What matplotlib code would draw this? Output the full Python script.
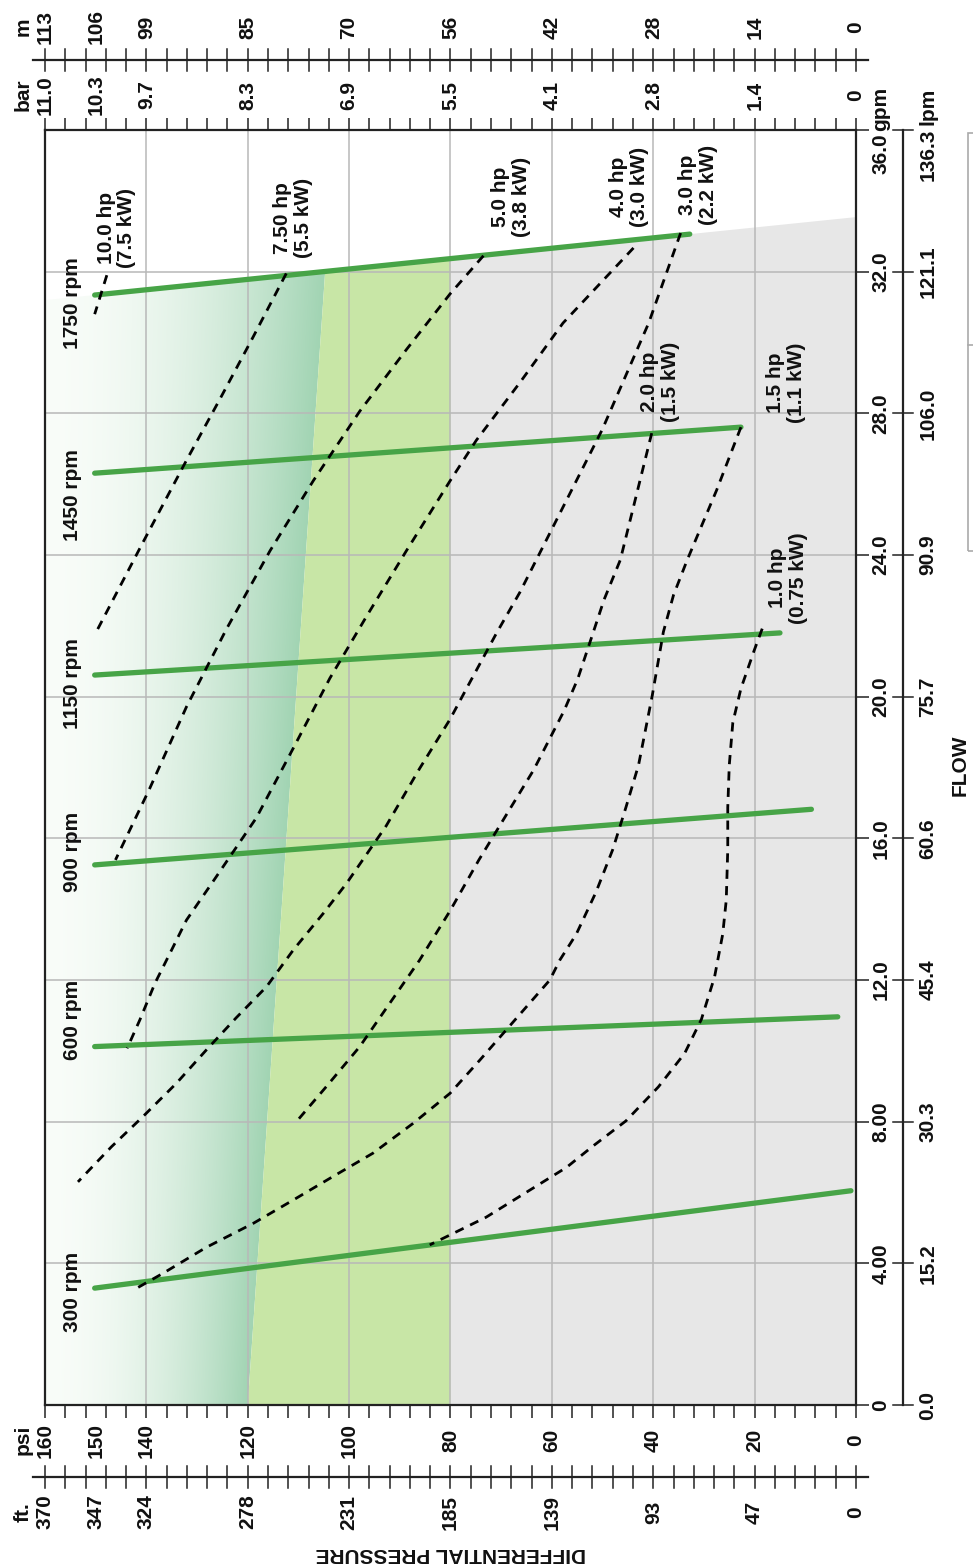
import numpy as np
import matplotlib.pyplot as plt
import matplotlib.transforms as mtransforms
from matplotlib.patches import Polygon, Rectangle
from matplotlib.lines import Line2D

plt.rcParams['font.family'] = ['Liberation Sans', 'DejaVu Sans']
plt.rcParams['font.weight'] = 'bold'

# ---------------- scales ----------------
psi_vals = [160, 150, 140, 120, 100, 80, 60, 40, 20, 0]
ft_labels = ['370', '347', '324', '278', '231', '185', '139', '93', '47', '0']
bar_labels = ['11.0', '10.3', '9.7', '8.3', '6.9', '5.5', '4.1', '2.8', '1.4', '0']
m_labels = ['113', '106', '99', '85', '70', '56', '42', '28', '14', '0']
gpm_vals = [0, 4, 8, 12, 16, 20, 24, 28, 32, 36]
gpm_labels = ['0', '4.00', '8.00', '12.0', '16.0', '20.0', '24.0', '28.0', '32.0', '36.0']
lpm_labels = ['0.0', '15.2', '30.3', '45.4', '60.6', '75.7', '90.9', '106.0', '121.1', '136.3']

# ---------------- speed lines (psi, gpm) ----------------
rpm_names = ['300 rpm', '600 rpm', '900 rpm', '1150 rpm', '1450 rpm', '1750 rpm']
rpm_psi_start = [150.2, 150.2, 150.2, 150.2, 150.2, 150.2]
rpm_psi_end = [1.0, 3.6, 8.8, 15.0, 22.7, 32.8]
rpm_flow_start = [3.30, 10.12, 15.25, 20.61, 26.31, 31.34]
rpm_flow_end = [6.05, 10.96, 16.82, 21.80, 27.61, 33.06]
rpm_label_flow = [3.19, 10.87, 15.61, 20.36, 25.7, 31.1]

# ---------------- power curves (psi, gpm) ----------------
hp10_psi = [147.8, 150.2]
hp10_flow = [31.9, 30.8]
hp75_psi = [112.4, 119.0, 125.5, 132.1, 140.7, 149.7]
hp75_flow = [31.95, 30.14, 28.40, 26.67, 24.35, 21.88]
hp5_psi = [73.5, 80.1, 88.7, 97.9, 107.1, 115.6, 124.2, 132.1, 139.4, 146.1]
hp5_flow = [32.45, 31.37, 29.80, 28.06, 26.09, 24.12, 21.91, 19.71, 17.39, 15.39]
hp4_psi = [43.9, 57.8, 66.3, 74.9, 80.1, 88.7, 96.6, 103.8, 111.0, 118.3, 127.0, 132.1,
           134.7, 138.3, 141.3, 143.8]
hp4_flow = [32.67, 30.55, 28.87, 27.24, 26.09, 24.12, 22.26, 20.52, 18.55, 16.58, 14.75, 13.69,
            12.94, 11.91, 10.87, 10.07]
hp3_psi = [34.6, 40.9, 50.1, 66.3, 70.9, 76.2, 80.1, 86.1, 92.7, 100.5, 105.1, 111.0,
           116.3, 122.3, 128.2, 134.1, 140.7, 146.9, 153.5]
hp3_flow = [33.09, 30.55, 27.53, 22.95, 21.80, 20.40, 19.36, 17.97, 16.35, 14.73, 13.88,
            12.85, 11.81, 10.93, 10.02, 9.08, 8.14, 7.29, 6.30]
hp2_psi = [40.3, 46.5, 49.7, 52.2, 54.9, 57.6, 63.6, 74.4, 80.1, 86.1, 92.0, 97.9, 104.5, 110.7]
hp2_flow = [27.44, 23.86, 22.74, 21.66, 20.5, 19.6, 17.93, 15.39, 13.95, 12.56, 11.34, 10.12,
            8.99, 7.95]
hp15_psi = [22.7, 27.5, 33.3, 36.0, 38.0, 40.2, 42.9, 45.4, 48.0, 51.3, 55.2, 58.4, 60.4, 74.2,
            80.1, 87.4, 95.3, 103.2, 111.0, 118.9, 128.2, 136.7, 142.0]
hp15_flow = [27.61, 25.83, 23.86, 22.87, 21.83, 20.03, 18.07, 16.87, 15.68, 14.48, 13.29, 12.57,
             12.0, 9.74, 8.80, 7.95, 7.11, 6.45, 5.79, 5.13, 4.45, 3.72, 3.29]
hp1_psi = [18.5, 20.1, 22.7, 24.3, 25.0, 25.3, 25.3, 25.6, 26.3, 27.9, 30.5, 33.8, 39.0, 45.4,
           51.9, 57.1, 73.0, 84.1]
hp1_flow = [21.92, 21.3, 20.23, 19.27, 18.07, 16.87, 15.68, 14.25, 13.29, 12.09, 10.89, 9.93,
            8.98, 8.02, 7.31, 6.71, 5.30, 4.52]

hp_curves = [(hp10_psi, hp10_flow), (hp75_psi, hp75_flow), (hp5_psi, hp5_flow),
             (hp4_psi, hp4_flow), (hp3_psi, hp3_flow), (hp2_psi, hp2_flow),
             (hp15_psi, hp15_flow), (hp1_psi, hp1_flow)]
hp_texts = ['10.0 hp\n(7.5 kW)', '7.50 hp\n(5.5 kW)', '5.0 hp\n(3.8 kW)', '4.0 hp\n(3.0 kW)',
            '3.0 hp\n(2.2 kW)', '2.0 hp\n(1.5 kW)', '1.5 hp\n(1.1 kW)', '1.0 hp\n(0.75 kW)']
hp_text_psi = [145.9, 111.1, 68.1, 44.8, 31.2, 38.7, 13.8, 13.4]
hp_text_flow = [33.23, 33.51, 34.1, 34.4, 34.44, 28.88, 28.85, 23.35]

# edge between the teal and light green zones
edge_psi = [120.0, 104.8]
edge_flow = [0.0, 31.85]

# ---------------- figure ----------------
W, H = 973, 1568
L, R, T, B = 45, 856, 130, 1405
fig = plt.figure(figsize=(W / 100, H / 100), dpi=100)
ax = fig.add_axes([L / W, 1 - B / H, (R - L) / W, (B - T) / H])

def axx(px):
    return (px - L) / (R - L)

def axy(py):
    return (B - py) / (B - T)

bx = mtransforms.blended_transform_factory(ax.transData, ax.transAxes)
by = mtransforms.blended_transform_factory(ax.transAxes, ax.transData)

# top speed line, extended to the axes limits
s = (rpm_flow_end[-1] - rpm_flow_start[-1]) / (rpm_psi_end[-1] - rpm_psi_start[-1])
def top_flow(p):
    return rpm_flow_start[-1] + s * (p - rpm_psi_start[-1])

es = (edge_psi[1] - edge_psi[0]) / (edge_flow[1] - edge_flow[0])
# intersection of the edge with the top speed line
fi = (rpm_flow_start[-1] + s * (edge_psi[0] - rpm_psi_start[-1])) / (1 - s * es)
pi_ = edge_psi[0] + es * fi

ax.add_patch(Polygon([(80, 0), (0, 0), (0, top_flow(0)), (80, top_flow(80))],
                     closed=True, fc='#e7e7e7', ec='none', zorder=0.6))
ax.add_patch(Polygon([(edge_psi[0], 0), (80, 0), (80, top_flow(80)), (pi_, fi)],
                     closed=True, fc='#c8e6a6', ec='none', zorder=0.6))

pp = np.linspace(160, 100, 400)
ff = np.linspace(0, 34, 200)
P, F = np.meshgrid(pp, ff)
edge = edge_psi[0] + es * F
t = np.clip((160 - P) / (160 - edge), 0, 1) ** 1.9
c0 = np.array([0.975, 0.99, 0.975])
c1 = np.array([0.63, 0.83, 0.70])
img = c0 * (1 - t[..., None]) + c1 * t[..., None]
im = ax.imshow(img, extent=[160, 100, 0, 34], origin='lower', aspect='auto',
               interpolation='bilinear', zorder=0.5)
clip = Polygon([(160, 0), (edge_psi[0], 0), (pi_, fi), (160, top_flow(160))],
               closed=True, transform=ax.transData)
im.set_clip_path(clip)

ax.set_xlim(160, 0)
ax.set_ylim(0, 36)

# grid
for p in range(20, 160, 20):
    ax.axvline(p, color='#b8b8b8', lw=1.1, zorder=1.5)
for g in range(4, 36, 4):
    ax.axhline(g, color='#b8b8b8', lw=1.1, zorder=1.5)

# speed lines
for i in range(len(rpm_names)):
    ax.plot([rpm_psi_start[i], rpm_psi_end[i]], [rpm_flow_start[i], rpm_flow_end[i]],
            color='#47a447', lw=3.8, solid_capstyle='round', zorder=3)
    ax.text(154.6, rpm_label_flow[i], rpm_names[i], rotation=90, ha='center', va='center',
            fontsize=15, fontweight='bold', color='#111111', zorder=5)

# power curves
for (cp, cf) in hp_curves:
    ax.plot(cp, cf, color='black', lw=2.0, dashes=(3.3, 2.6), zorder=4)
for i in range(len(hp_texts)):
    ax.text(hp_text_psi[i], hp_text_flow[i], hp_texts[i], rotation=90, ha='center',
            va='center', multialignment='center', fontsize=15, fontweight='bold',
            color='#111111', linespacing=1.1, zorder=5)

# frame and ticks
for sp in ax.spines.values():
    sp.set_linewidth(1.6)
    sp.set_color('#222222')
ax.set_xticks(np.arange(0, 161, 4))
ax.set_yticks(gpm_vals)
ax.tick_params(axis='x', direction='out', length=9, width=1.1, color='#222222',
               top=True, bottom=True, labelbottom=False, labeltop=False)
ax.tick_params(axis='y', direction='out', length=9, width=1.1, color='#222222',
               left=False, right=True, labelleft=False, labelright=False)

tk = dict(rotation=90, ha='center', va='center', fontsize=15, fontweight='bold',
          color='#111111', clip_on=False)

# bottom: psi and ft
for v, lab_ft in zip(psi_vals, ft_labels):
    ax.text(v, axy(1440), str(v), transform=bx, **tk)
    ax.text(v, axy(1512), lab_ft, transform=bx, **tk)
ax.text(164.3, axy(1440), 'psi', transform=bx, **tk)
ax.text(164.3, axy(1512), 'ft.', transform=bx, **tk)
ax.plot([162.4, -2.4], [axy(1477)] * 2, transform=bx, color='#222222', lw=1.6, clip_on=False)
for p in range(0, 161, 4):
    ax.plot([p, p], [axy(1466), axy(1488)], transform=bx, color='#222222', lw=1.1, clip_on=False)

# top: bar and m
for v, lab_b, lab_m in zip(psi_vals, bar_labels, m_labels):
    ax.text(v, axy(95), lab_b, transform=bx, **tk)
    ax.text(v, axy(27), lab_m, transform=bx, **tk)
ax.text(164.3, axy(95), 'bar', transform=bx, **tk)
ax.text(164.3, axy(27), 'm', transform=bx, **tk)
ax.plot([162.4, -2.4], [axy(60)] * 2, transform=bx, color='#222222', lw=1.6, clip_on=False)
for p in range(0, 161, 4):
    ax.plot([p, p], [axy(49), axy(71)], transform=bx, color='#222222', lw=1.1, clip_on=False)

# right: gpm and lpm
for v, lab_g, lab_l in zip(gpm_vals, gpm_labels, lpm_labels):
    ax.text(axx(881), v if v < 36 else 35.32, lab_g, transform=by, **tk)
    ax.text(axx(928), v if v < 36 else 35.3, lab_l, transform=by, **tk)
    ax.plot([axx(893), axx(913)], [v, v], transform=by, color='#222222', lw=1.1, clip_on=False)
ax.text(axx(881), 36.6, 'gpm', transform=by, **tk)
ax.text(axx(928), 36.68, 'lpm', transform=by, **tk)
ax.plot([axx(903)] * 2, [0, 36], transform=by, color='#222222', lw=1.6, clip_on=False)

ax.text(axx(960), 18.07, 'FLOW', transform=by, **tk)
ax.text(80, axy(1553), 'DIFFERENTIAL PRESSURE', transform=bx, rotation=180, ha='center',
        va='center', fontsize=15, fontweight='bold', color='#111111', clip_on=False)

# partial box at right edge
fig.add_artist(Rectangle((968 / W, 1 - 551 / H), 0.05, (551 - 133) / H,
                         transform=fig.transFigure, fill=False, ec='#aaaaaa', lw=1.2))
fig.add_artist(Line2D([968 / W, 1.0], [1 - 345 / H] * 2, transform=fig.transFigure,
                      color='#aaaaaa', lw=1.2))

fig.savefig('out.png', dpi=100)
